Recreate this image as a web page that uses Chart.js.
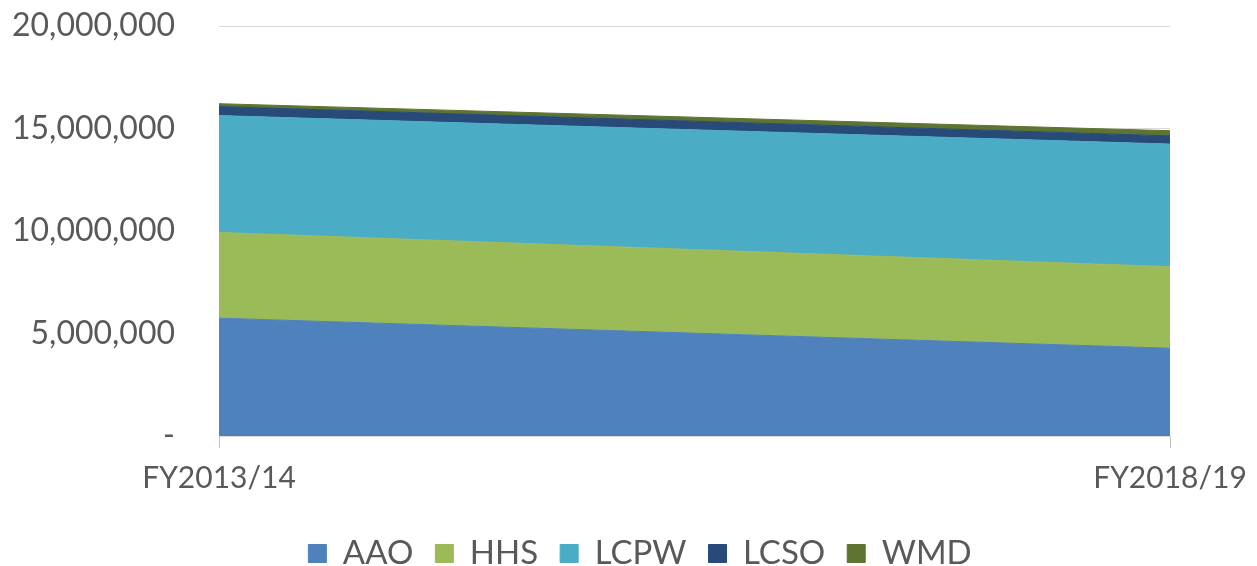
<!DOCTYPE html>
<html><head><meta charset="utf-8">
<script src="https://cdn.jsdelivr.net/npm/chart.js@4/dist/chart.umd.min.js"></script>
<style>html,body{margin:0;padding:0;background:#fff;}#wrap{width:1257px;height:566px;}</style>
</head><body><div id="wrap"><canvas id="c" width="1257" height="566"></canvas></div>
<script>
const categories = ["FY2013/14", "FY2018/19"];
const seriesNames = ["AAO", "HHS", "LCPW", "LCSO", "WMD"];
const AAO  = [5750000, 4280000];
const HHS  = [4180000, 3980000];
const LCPW = [5700000, 5980000];
const LCSO = [440000, 400000];
const WMD  = [140000, 250000];
const yTicks = [0, 5000000, 10000000, 15000000, 20000000];
const colors = ["#4f81bd", "#9bbb59", "#4bacc6", "#274a78", "#5e7431"];
const values = [AAO, HHS, LCPW, LCSO, WMD];

const datasets = seriesNames.map((n, i) => ({
  label: n,
  data: values[i],
  backgroundColor: colors[i],
  borderColor: colors[i],
  borderWidth: 1,
  pointRadius: 0,
  tension: 0,
  fill: i === 0 ? 'origin' : '-1'
}));

const FONT = "Lato, 'Open Sans', sans-serif";
new Chart(document.getElementById('c'), {
  type: 'line',
  data: { labels: categories, datasets },
  options: {
    responsive: false,
    animation: false,
    layout: { padding: { left: 0, right: -23, top: 26, bottom: -14 } },
    plugins: {
      tooltip: { enabled: false },
      legend: {
        position: 'bottom',
        labels: {
          boxWidth: 18, boxHeight: 18, padding: 22,
          color: '#595959',
          font: { family: FONT, size: 33 }
        }
      }
    },
    scales: {
      x: {
        offset: false,
        afterFit: (s) => { s.height += 7; s.paddingLeft = 0; s.paddingRight = 87; },
        grid: { drawOnChartArea: false, drawTicks: true, tickLength: 12, color: '#bfbfbf' },
        border: { color: '#d9d9d9', width: 1 },
        ticks: { color: '#595959', font: { family: FONT, size: 30 }, padding: 12, maxRotation: 0, autoSkip: false }
      },
      y: {
        stacked: true,
        min: 0, max: 20000000,
        afterFit: (s) => { s.width = 219; s.paddingTop = 0; s.paddingBottom = 0; },
        afterBuildTicks: (s) => { s.ticks = yTicks.map(v => ({ value: v })); },
        grid: { drawTicks: false, color: '#d9d9d9' },
        border: { display: false },
        ticks: {
          color: '#595959', padding: 44,
          font: { family: FONT, size: 32 },
          callback: (v) => v === 0 ? '-' : v.toLocaleString('en-US')
        }
      }
    }
  }
});
</script></body></html>
